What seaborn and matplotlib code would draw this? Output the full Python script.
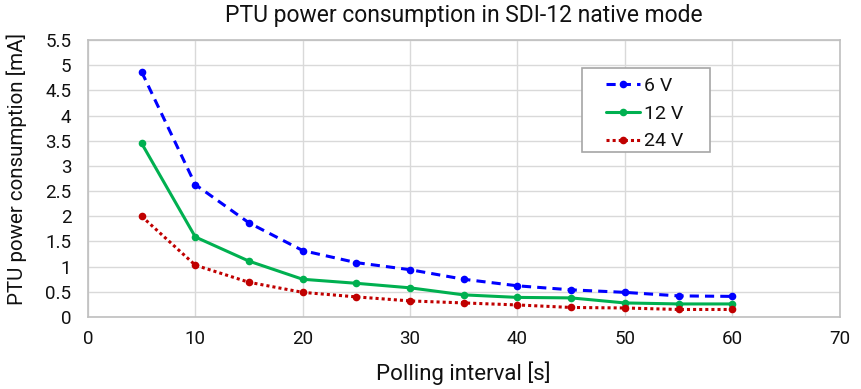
import matplotlib
matplotlib.use("Agg")
import matplotlib.pyplot as plt
from matplotlib.patches import Rectangle
import seaborn as sns
import pandas as pd

interval = [5, 10, 15, 20, 25, 30, 35, 40, 45, 50, 55, 60]
v6 = [4.87, 2.63, 1.87, 1.32, 1.08, 0.94, 0.75, 0.62, 0.54, 0.49, 0.42, 0.41]
v12 = [3.45, 1.59, 1.11, 0.75, 0.67, 0.58, 0.44, 0.39, 0.38, 0.28, 0.26, 0.26]
v24 = [2.00, 1.03, 0.69, 0.49, 0.40, 0.32, 0.28, 0.24, 0.19, 0.18, 0.15, 0.15]
series = ["6 V", "12 V", "24 V"]

df = pd.DataFrame({
    "interval": interval * 3,
    "value": v6 + v12 + v24,
    "series": [series[0]] * 12 + [series[1]] * 12 + [series[2]] * 12,
})

sns.set_theme(style="white")
plt.rcParams["font.family"] = ["Roboto", "DejaVu Sans"]
plt.rcParams["text.color"] = "#111111"
plt.rcParams["axes.labelcolor"] = "#111111"

fig = plt.figure(figsize=(8.62, 3.89), dpi=100)
ax = fig.add_axes([0.102, 0.185, 0.872, 0.712])

palette = {"6 V": "#0000FF", "12 V": "#00B050", "24 V": "#C00000"}
dashes = {"6 V": (3, 2), "12 V": "", "24 V": (1, 1)}
sns.lineplot(data=df, x="interval", y="value", hue="series", style="series",
             palette=palette, dashes=dashes, markers={"6 V": "o", "12 V": "o", "24 V": "o"},
             markersize=5.5, markeredgewidth=0, linewidth=2.2, ax=ax, zorder=3)

ax.set_xlim(0, 70)
ax.set_ylim(0, 5.5)
ax.set_xticks(range(0, 71, 10))
ax.set_yticks([i * 0.5 for i in range(12)])
ax.set_yticklabels(["0", "0.5", "1", "1.5", "2", "2.5", "3", "3.5", "4", "4.5", "5", "5.5"])
ax.grid(True, color="#d9d9d9", linewidth=1)
ax.set_axisbelow(True)
for s in ax.spines.values():
    s.set_color("#bfbfbf")
    s.set_linewidth(1.2)
ax.tick_params(axis="both", length=0, labelsize=13.5, colors="#111111")
ax.tick_params(axis="x", pad=9)
ax.tick_params(axis="y", pad=12)

ax.set_xlabel("Polling interval [s]", fontsize=16, labelpad=10)
ax.set_ylabel("PTU power consumption [mA]", fontsize=14.8)
ax.yaxis.set_label_coords(-0.081, 0.534)
ax.set_title("PTU power consumption in SDI-12 native mode", fontsize=16.5, pad=13)

# legend box (Excel-style, wide padding)
ax.add_patch(Rectangle((0.657, 0.596), 0.170, 0.303, transform=ax.transAxes,
                       facecolor="white", edgecolor="#a6a6a6", linewidth=1.2, zorder=4))
leg = ax.legend(loc="upper left", bbox_to_anchor=(0.689, 0.867), fontsize=14,
                frameon=False, handlelength=1.75, handletextpad=0.2,
                borderpad=0, borderaxespad=0, labelspacing=0.5)
leg.set_zorder(5)

fig.savefig("out.png", dpi=100)
